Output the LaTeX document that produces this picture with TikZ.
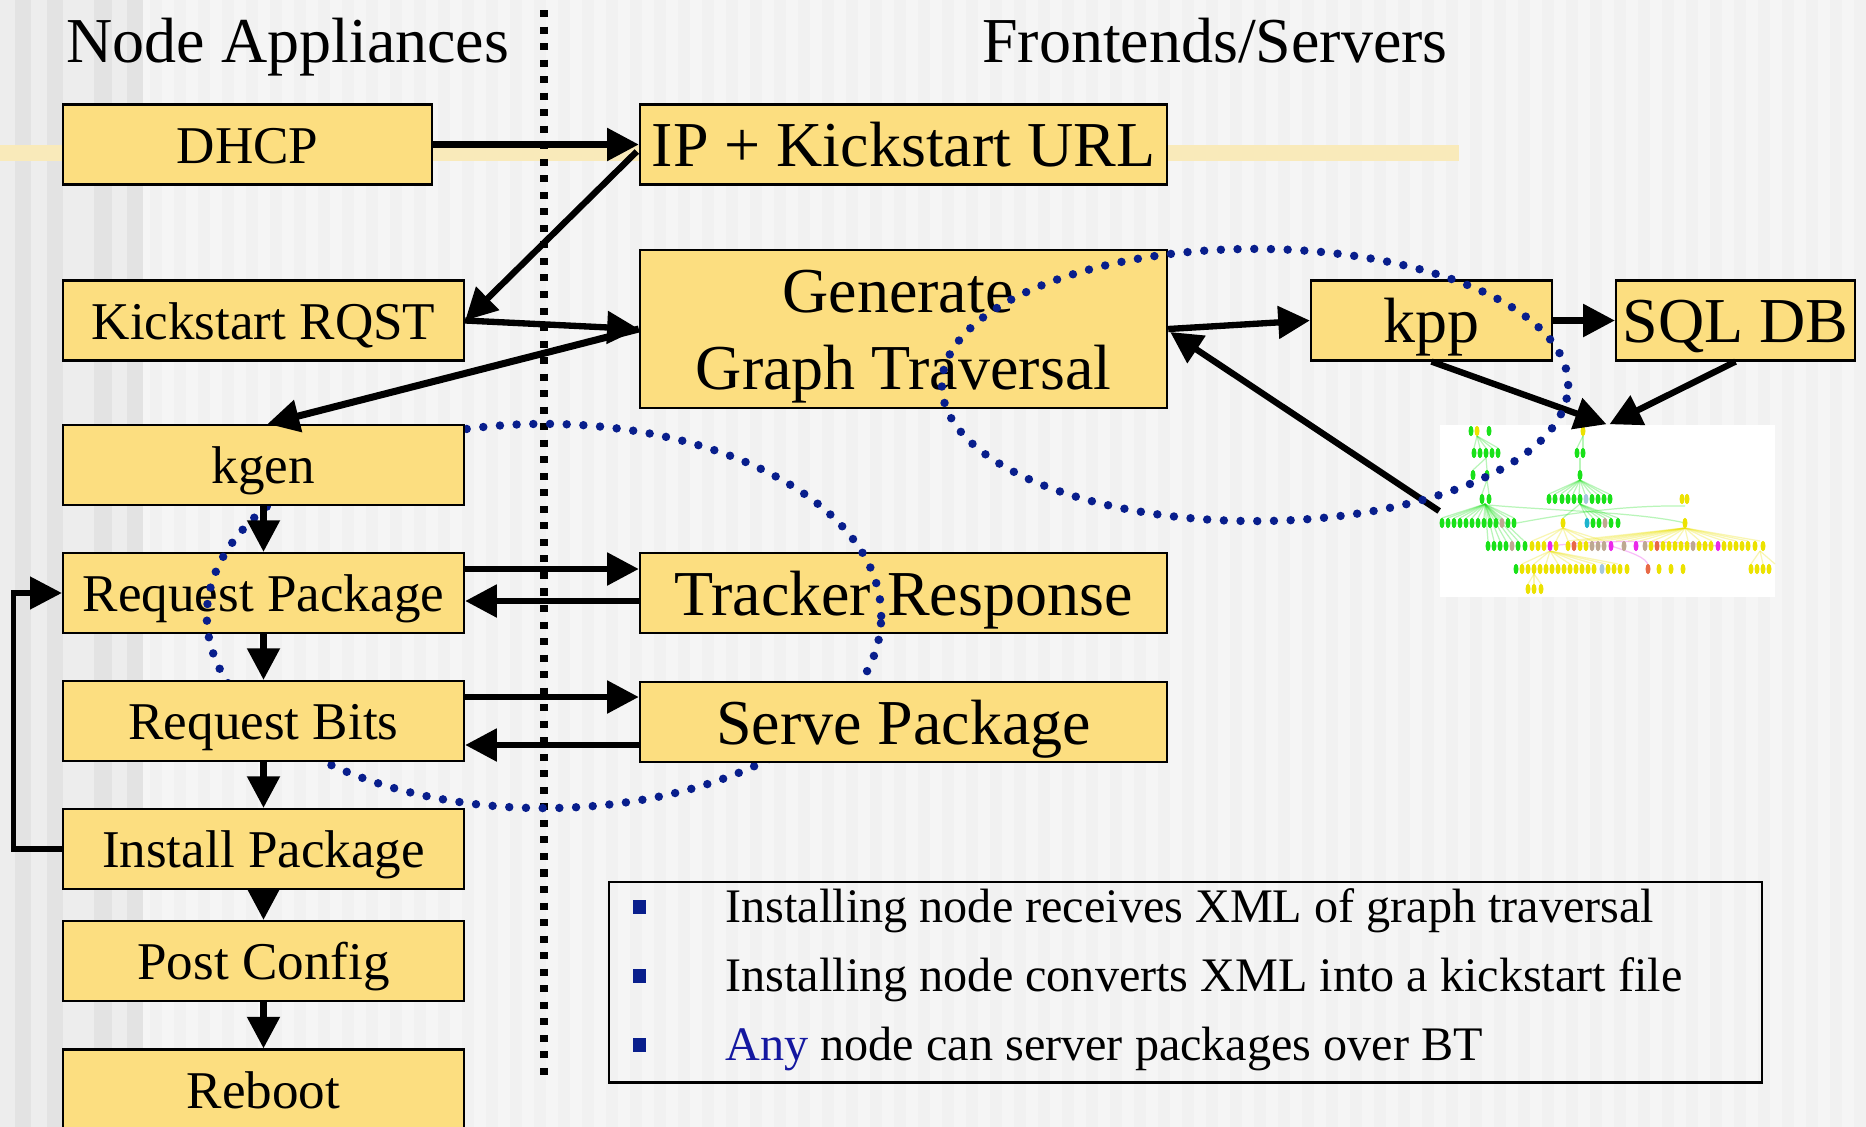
\documentclass[tikz,border=0pt]{standalone}
\usepackage{fontspec}
\setmainfont{Liberation Serif}
\usetikzlibrary{arrows.meta,calc,shapes.geometric}

\definecolor{boxfill}{RGB}{252,222,128}
\definecolor{navydot}{RGB}{8,30,140}
\definecolor{anyblue}{RGB}{20,24,160}
\definecolor{bgbase}{RGB}{245,245,245}
\definecolor{bgstripe}{RGB}{241,241,241}
\definecolor{edgelight}{RGB}{237,237,237}
\definecolor{edgedark}{RGB}{227,227,227}
\definecolor{bandyellow}{RGB}{249,234,186}
\definecolor{gg}{RGB}{25,225,25}
\definecolor{yy}{RGB}{236,226,0}
\definecolor{tn}{RGB}{190,168,145}
\definecolor{mg}{RGB}{235,40,235}
\definecolor{rd}{RGB}{232,105,70}
\definecolor{cy}{RGB}{30,180,205}
\definecolor{lb}{RGB}{165,200,220}

\newcommand\smallboxfont{\fontsize{15.1pt}{18pt}\selectfont}
\newcommand\bigboxfont{\fontsize{18.2pt}{22pt}\selectfont}
\newcommand\notefont{\fontsize{13.7pt}{16pt}\selectfont}
% one row of coloured dots in the traversal thumbnail
\newcommand\dotrow[2]{\foreach \x/\c in {#2}{\fill[\c] (\x,#1) ellipse [x radius=0.025cm, y radius=0.052cm];}}

\begin{document}
\begin{tikzpicture}[x=0.01cm, y=-0.01cm,
  box/.style={draw=black, line width=0.6pt, fill=boxfill, inner sep=0pt},
  lbox/.style={box, font=\smallboxfont, text height=12.1pt, text depth=1.5pt,
               minimum width=4.01cm, minimum height=0.8cm},
  rbox/.style={box, font=\bigboxfont, text height=14.6pt, text depth=1.86pt,
               minimum height=0.8cm},
  flow/.style={line width=1.8pt, -{Triangle[length=9pt,width=9pt]}},
  ringdots/.style={ellipse, draw=navydot, line width=2.4pt, line cap=round,
                   dash pattern=on 0pt off 4.75pt, inner sep=0pt},
  divider/.style={line width=2.3pt, dash pattern=on 2pt off 2.7pt},
  fanline/.style={line width=0.35pt, draw opacity=0.3},
  bulletsq/.style={fill=navydot, minimum width=0.13cm, minimum height=0.14cm, inner sep=0pt},
  heading/.style={font=\bigboxfont, anchor=base, inner sep=0pt}
]
\useasboundingbox (0,0) rectangle (1866,1127);
\clip (0,0) rectangle (1866,1127);

% slide background with faint vertical stripes
\fill[bgbase] (0,0) rectangle (1866,1127);
\foreach \k in {0,...,72} \fill[bgstripe] ({150+\k*24},0) rectangle ++(12,1127);
\fill[edgelight] (0,0) rectangle (143,1127);
\foreach \a/\b in {15/31,47/63,94/112,127/143} \fill[edgedark] (\a,0) rectangle (\b,1127);
\fill[bandyellow] (0,145) rectangle (1459,161);

% column headings and divider
\node[heading] (hdrL) at (288,62) {Node Appliances};
\node[heading] (hdrR) at (1215,62) {Frontends/Servers};
\coordinate (divTop) at (544,10);
\coordinate (divBot) at (544,1081);
\draw[divider] (divTop) -- (divBot);

% traversal thumbnail
\node[fill=white, minimum width=3.35cm, minimum height=1.72cm, inner sep=0pt] (graph) at (1607.5,511) {};
\begin{scope}[fanline, draw=gg]
  \foreach \x in {1474,1480,1486,1492,1498} \draw (1477,436) -- (\x,448);
  \foreach \x in {1473,1487} \draw (1486,458) -- (\x,470);
  \foreach \x in {1482,1489} \draw (1487,480) -- (\x,494);
  \foreach \x in {1442,1448,...,1514} \draw (1485,504) -- (\x,518);
  \foreach \x in {1488,1494,...,1525} \draw (1485,504) -- (\x,541);
  \foreach \x in {1577,1583} \draw (1583,436) -- (\x,448);
  \draw (1580,458) -- (1580,470);
  \foreach \x in {1549,1555,...,1610} \draw (1580,480) -- (\x,494);
  \foreach \x in {1563,1587,1593,1599,1605,1611,1618} \draw (1580,504) -- (\x,518);
  \draw (1489,505) .. controls (1540,510) and (1640,512) .. (1685,523);
  \draw (1517,523) .. controls (1560,515) and (1620,505) .. (1685,506);
\end{scope}
\begin{scope}[fanline, draw=yy]
  \foreach \x in {1568,1580,...,1763} \draw (1685,528) -- (\x,541);
  \foreach \x in {1532,1544,...,1611} \draw (1563,528) -- (\x,541);
  \foreach \x in {1522,1534,...,1627} \draw (1550,551) -- (\x,564);
  \foreach \x in {1751,1763,1775} \draw (1760,551) -- (\x,564);
  \foreach \x in {1528,1534,1541} \draw (1534,574) -- (\x,584);
\end{scope}
\begin{scope}[fanline, draw=mg]
  \draw (1550,546) .. controls (1600,540) and (1660,540) .. (1718,546);
  \draw (1611,546) .. controls (1640,555) and (1650,560) .. (1648,569);
\end{scope}
\dotrow{431}{1471/gg,1477/yy,1489/gg,1583/yy}
\dotrow{453}{1474/gg,1480/gg,1486/gg,1492/gg,1498/gg,1577/gg,1583/gg}
\dotrow{475}{1473/gg,1487/gg,1580/gg}
\dotrow{499}{1482/gg,1489/gg,1549/gg,1555/gg,1562/gg,1568/gg,1574/gg,1580/gg,1586/lb,1592/gg,1598/gg,1604/gg,1610/gg,1682/yy,1687/yy}
\dotrow{523}{1442/gg,1448/gg,1454/gg,1460/gg,1466/gg,1472/gg,1478/gg,1484/gg,1490/gg,1496/gg,1502/tn,1508/gg,1514/gg,1563/yy,1587/cy,1593/gg,1599/gg,1605/tn,1611/gg,1618/gg,1685/yy}
\dotrow{546}{1488/gg,1494/gg,1500/gg,1506/gg,1512/tn,1518/gg,1525/gg,1532/yy,1538/yy,1544/yy,1550/mg,1556/yy,1568/yy,1574/rd,1580/yy,1586/yy,1592/tn,1598/tn,1604/tn,1611/mg,1624/tn,1636/mg,1645/tn,1651/yy,1657/rd,1663/yy,1669/yy,1675/yy,1681/yy,1687/yy,1693/tn,1699/yy,1705/yy,1711/yy,1718/mg,1724/yy,1730/yy,1736/yy,1742/yy,1748/yy,1755/yy,1763/yy}
\dotrow{569}{1516/gg,1522/yy,1528/yy,1534/yy,1540/yy,1546/yy,1552/yy,1558/yy,1564/yy,1570/yy,1576/yy,1582/yy,1588/yy,1594/yy,1602/lb,1608/yy,1614/yy,1620/yy,1627/yy,1648/rd,1659/yy,1671/yy,1683/yy,1751/yy,1757/yy,1763/yy,1769/yy}
\dotrow{589}{1528/yy,1534/yy,1541/yy}

% boxes that lie under the left ring
\node[lbox] (rp) at (263.5,593) {Request Package};
\node[rbox, minimum width=5.27cm] (tr) at (903.5,593) {Tracker Response};

% left ring: package exchange
\node[ringdots, minimum width=6.74cm, minimum height=3.84cm] (ringA) at (544,616) {};

% node appliance column
\node[lbox, minimum width=3.69cm] (dhcp) at (247.5,144.5) {DHCP};
\node[lbox] (kick) at (263.5,320.5) {Kickstart RQST};
\node[lbox] (kgen) at (263.5,465) {kgen};
\node[lbox] (rb) at (263.5,721) {Request Bits};
\node[lbox] (inst) at (263.5,849) {Install Package};
\node[lbox] (post) at (263.5,961) {Post Config};
\node[lbox] (reboot) at (263.5,1089.5) {Reboot};

% frontend / server column
\node[rbox, minimum width=5.27cm] (ip) at (903.5,144.5) {IP + Kickstart URL};
\node[box, minimum width=5.27cm, minimum height=1.58cm] (gen) at (903.5,329) {};
\node[heading] (genA) at (898,312) {Generate};
\node[heading] (genB) at (903.5,389) {Graph Traversal};
\node[rbox, minimum width=5.27cm] (sp) at (903.5,722) {Serve Package};
\node[rbox, minimum width=2.41cm] (kpp) at (1431.5,320.5) {kpp};
\node[rbox, minimum width=2.39cm] (sql) at (1735.5,320.5) {SQL DB};

% connectors
\draw[flow] (dhcp.east) -- (ip.west);
\draw[flow] ($(ip.west)+(-2,7)$) -- (kick.east);
\draw[flow] (kick.east) -- (gen.west);
\draw[flow, line width=2pt] (gen.west) -- ($(kgen.north)+(4,0)$);
\draw[flow] (kgen.south) -- (rp.north);
\draw[flow] (rp.south) -- (rb.north);
\draw[flow] (rb.south) -- (inst.north);
\draw[flow] (inst.south) -- (post.north);
\draw[flow] (post.south) -- (reboot.north);
\draw[flow, line width=1.5pt] (inst.west) -- ++(-48,0) |- (rp.west);
\draw[flow] ($(rp.east)+(0,-24)$) -- ($(tr.west)+(0,-24)$);
\draw[flow] ($(tr.west)+(0,8)$) -- ($(rp.east)+(0,8)$);
\draw[flow] ($(rb.east)+(0,-24)$) -- ($(sp.west)+(0,-25)$);
\draw[flow] ($(sp.west)+(0,23)$) -- ($(rb.east)+(0,24)$);
\draw[flow] (gen.east) -- (kpp.west);
\draw[flow] (kpp.east) -- (sql.west);
\draw[flow] (kpp.south) -- ($(graph.north)+(-1,0)$);
\draw[flow] (sql.south) -- ($(graph.north)+(2,0)$);
\draw[flow] (graph.west) -- ($(gen.east)+(2,3)$);

% right ring: traversal generation
\node[ringdots, minimum width=6.26cm, minimum height=2.72cm] (ringB) at (1255,385) {};

% notes
\node[draw=black, line width=0.7pt, minimum width=11.52cm, minimum height=2cm,
      inner sep=0pt, anchor=north west] (note) at (608,881) {};
\node[bulletsq] (b1) at (639.5,907) {};
\node[bulletsq] (b2) at (639.5,976) {};
\node[bulletsq] (b3) at (639.5,1045) {};
\node[font=\notefont, anchor=base west, inner sep=0pt] (t1) at (725,922) {Installing node receives XML of graph traversal};
\node[font=\notefont, anchor=base west, inner sep=0pt] (t2) at (725,991) {Installing node converts XML into a kickstart file};
\node[font=\notefont, anchor=base west, inner sep=0pt] (t3) at (725,1060) {\textcolor{anyblue}{Any} node can server packages over BT};
\end{tikzpicture}
\end{document}
